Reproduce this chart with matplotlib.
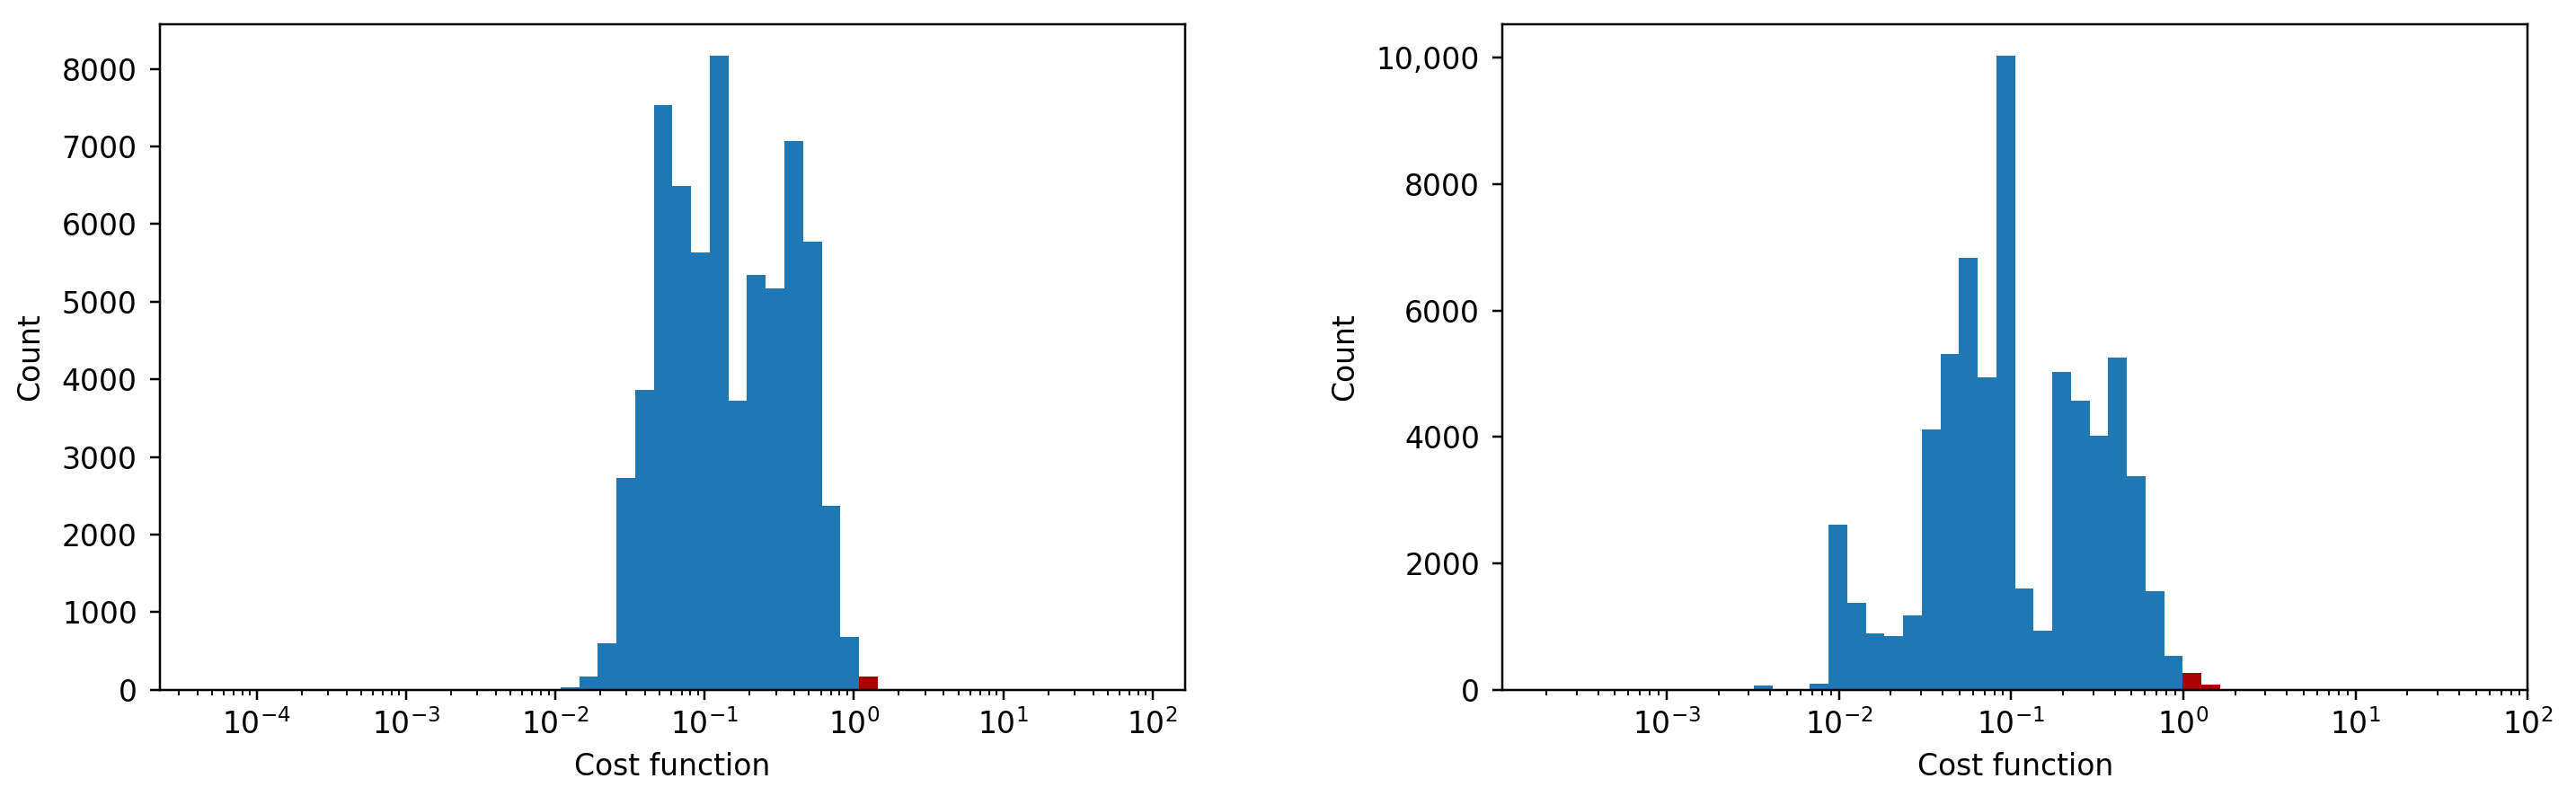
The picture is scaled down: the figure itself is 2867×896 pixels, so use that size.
import numpy as np
import matplotlib
matplotlib.use("Agg")
import matplotlib.pyplot as plt
from matplotlib.ticker import FuncFormatter

plt.rcParams['font.size'] = 10.6
plt.rcParams['ytick.major.pad'] = 4.5

# =====================================
# Histogram data
# =====================================
# bin edges are log-spaced, 50 bins between data min and max
left_log_min, left_log_max = -4.338, 1.907
right_log_min, right_log_max = -3.684, 1.730
n_bins = 50

left_counts = [1] + [0] * 18 + [
    30, 168, 599, 2723, 3867, 7533, 6494, 5636, 8169, 3728,
    5349, 5166, 7074, 5775, 2369, 676, 168,
] + [0] * 13 + [1]

right_counts = [1] + [0] * 10 + [
    67, 0, 0, 95, 2609, 1374, 891, 850, 1177, 4124,
    5305, 6826, 4939, 10031, 1597, 933, 5034, 4578, 4015, 5251,
    3377, 1557, 538, 265, 81,
] + [0] * 13 + [1]

threshold = 1.0
blue = '#1f77b4'
red = '#aa0000'


def draw_hist(ax, counts, log_min, log_max):
    edges = np.logspace(log_min, log_max, n_bins + 1)
    centers = np.sqrt(edges[:-1] * edges[1:])
    _, _, patches = ax.hist(centers, bins=edges, weights=counts, color=blue)
    for c, p in zip(centers, patches):
        if c > threshold:
            p.set_facecolor(red)
    ax.set_xscale('log')
    ax.set_xlabel('Cost function')
    ax.set_ylabel('Count', labelpad=6)


fig = plt.figure(figsize=(2867 / 224, 896 / 224), dpi=224)
ax1 = fig.add_subplot(121)
ax2 = fig.add_subplot(122)
fig.subplots_adjust(left=0.062, right=0.9813, top=0.9702, bottom=0.1432, wspace=0.309)

draw_hist(ax1, left_counts, left_log_min, left_log_max)
draw_hist(ax2, right_counts, right_log_min, right_log_max)

ax2.yaxis.set_major_formatter(
    FuncFormatter(lambda v, pos: f"{v:,.0f}" if v >= 10000 else f"{v:.0f}"))

fig.savefig('out.png', dpi=224)
